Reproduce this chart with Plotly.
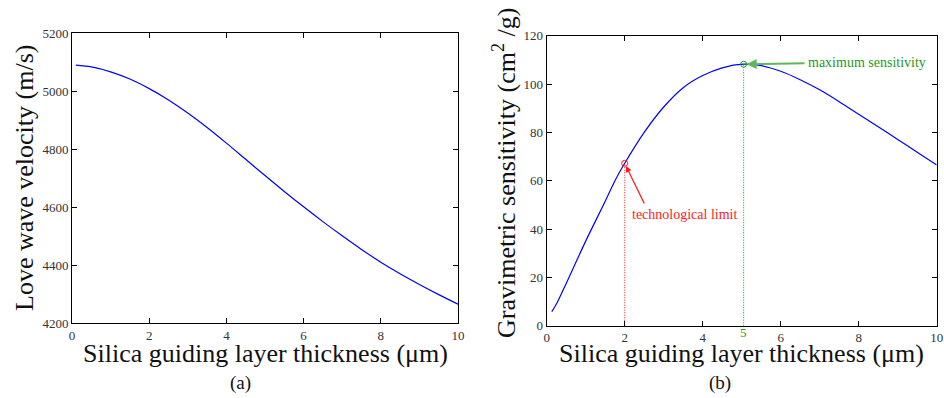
import plotly.graph_objects as go

# (a) Love wave velocity vs silica thickness
thick_a = [0.1, 0.5, 1.0, 1.5, 2.0, 2.5, 3.0, 3.5, 4.0, 4.5, 5.0, 5.5, 6.0, 6.5, 7.0, 7.5, 8.0, 8.5, 9.0, 9.5, 10.0]
velocity = [5090, 5084, 5067, 5042, 5009, 4970, 4925, 4875, 4821, 4765, 4709, 4654, 4601, 4550, 4501, 4454, 4410, 4370, 4333, 4298, 4265]

# (b) Gravimetric sensitivity vs silica thickness
thick_b = [0.13, 0.26, 0.5, 1.0, 1.5, 1.75, 2.0, 2.5, 3.0, 3.5, 4.0, 4.5, 5.05, 5.5, 6.0, 6.5, 7.0, 7.5, 8.0, 8.5, 9.0, 9.5, 10.0]
sensitivity = [5.8, 9.3, 17.5, 35.0, 51.5, 60.0, 67.2, 80.0, 90.5, 98.5, 103.5, 106.7, 108.2, 107.6, 105.3, 101.8, 97.6, 92.7, 87.5, 82.3, 77.1, 71.8, 66.5]

tech_limit_x, tech_limit_y = 2.0, 67.2
max_sens_x, max_sens_y = 5.05, 108.2

x_ticks = [0, 2, 4, 6, 8, 10]
ya_ticks = [4200, 4400, 4600, 4800, 5000, 5200]
yb_ticks = [0, 20, 40, 60, 80, 100, 120]

FONT = "Liberation Serif"
RED = "#ff1a1a"
GREEN = "#1a9a1a"
W, H = 944, 398

def px_x(p):
    return p / W

def px_y(p):
    return 1 - p / H

fig = go.Figure()
fig.add_trace(go.Scatter(x=thick_a, y=velocity, mode="lines",
                         line=dict(color="#0000ff", width=1.2, shape="spline", smoothing=0.8),
                         xaxis="x", yaxis="y", showlegend=False))
fig.add_trace(go.Scatter(x=thick_b, y=sensitivity, mode="lines",
                         line=dict(color="#0000ff", width=1.2, shape="spline", smoothing=0.8),
                         xaxis="x2", yaxis="y2", showlegend=False))
# dotted drop lines
fig.add_trace(go.Scatter(x=[tech_limit_x, tech_limit_x], y=[0, tech_limit_y], mode="lines",
                         line=dict(color=RED, width=1, dash="1px,1.5px"), xaxis="x2", yaxis="y2", showlegend=False))
fig.add_trace(go.Scatter(x=[max_sens_x, max_sens_x], y=[0, max_sens_y], mode="lines",
                         line=dict(color=GREEN, width=1, dash="1px,1.5px"), xaxis="x2", yaxis="y2", showlegend=False))
# markers
fig.add_trace(go.Scatter(x=[tech_limit_x], y=[tech_limit_y], mode="markers",
                         marker=dict(symbol="circle-open", size=6, color=RED, line=dict(width=1, color=RED)),
                         xaxis="x2", yaxis="y2", showlegend=False))
fig.add_trace(go.Scatter(x=[max_sens_x], y=[max_sens_y], mode="markers",
                         marker=dict(symbol="circle-open", size=6, color=GREEN, line=dict(width=1, color=GREEN)),
                         xaxis="x2", yaxis="y2", showlegend=False))

axis_common = dict(showgrid=False, zeroline=False, showline=True, linecolor="black", linewidth=1,
                   mirror="ticks", ticks="inside", ticklen=5, tickwidth=1, tickcolor="black",
                   automargin=False,
                   tickfont=dict(family=FONT, size=13, color="#333333"))

fig.update_layout(
    template="none",
    width=W, height=H,
    margin=dict(l=0, r=0, t=0, b=0, pad=0, autoexpand=False),
    paper_bgcolor="white", plot_bgcolor="white",
    xaxis=dict(domain=[px_x(72), px_x(458)], range=[0, 10], tickvals=x_ticks, anchor="y", **axis_common),
    yaxis=dict(domain=[px_y(323), px_y(33.3)], range=[4200, 5200], tickvals=ya_ticks, anchor="x", **axis_common),
    xaxis2=dict(domain=[px_x(546.7), px_x(936.7)], range=[0, 10], tickvals=x_ticks, anchor="y2", **axis_common),
    yaxis2=dict(domain=[px_y(325.7), px_y(35.7)], range=[0, 120], tickvals=yb_ticks, anchor="x2", **axis_common),
)

TITLE_FONT = dict(family=FONT, size=26, color="#111111")
ann = []
# axis titles
ann.append(dict(text="Silica guiding layer thickness (μm)", x=px_x(265), y=px_y(353), xref="paper", yref="paper",
                showarrow=False, xanchor="center", yanchor="middle", font=TITLE_FONT))
ann.append(dict(text="Silica guiding layer thickness (μm)", x=px_x(741.7), y=px_y(353), xref="paper", yref="paper",
                showarrow=False, xanchor="center", yanchor="middle", font=TITLE_FONT))
ann.append(dict(text="Love wave velocity (m/s)", x=px_x(24), y=px_y(178), xref="paper", yref="paper", textangle=-90,
                showarrow=False, xanchor="center", yanchor="middle", font=TITLE_FONT))
ann.append(dict(text="Gravimetric sensitivity (cm<sup>2</sup> /g)", x=px_x(504), y=px_y(173), xref="paper", yref="paper",
                textangle=-90, showarrow=False, xanchor="center", yanchor="middle", font=TITLE_FONT))
# captions
ann.append(dict(text="(a)", x=px_x(240), y=px_y(383), xref="paper", yref="paper", showarrow=False,
                xanchor="center", yanchor="middle", font=dict(family=FONT, size=19, color="#111111")))
ann.append(dict(text="(b)", x=px_x(720), y=px_y(383), xref="paper", yref="paper", showarrow=False,
                xanchor="center", yanchor="middle", font=dict(family=FONT, size=19, color="#111111")))
# green "5" tick label
ann.append(dict(text="5", x=max_sens_x, y=px_y(332), xref="x2", yref="paper", showarrow=False,
                xanchor="center", yanchor="middle", font=dict(family=FONT, size=13, color=GREEN)))
# technological limit
ann.append(dict(text="", x=tech_limit_x, y=tech_limit_y, xref="x2", yref="y2", ax=2.52, ay=50.0,
                axref="x2", ayref="y2", showarrow=True, arrowhead=2, arrowsize=1, arrowwidth=1.2,
                arrowcolor=RED, standoff=3))
ann.append(dict(text="technological limit", x=2.13, y=46.2, xref="x2", yref="y2", showarrow=False,
                xanchor="left", yanchor="middle", font=dict(family=FONT, size=14, color=RED)))
# maximum sensitivity
ann.append(dict(text="", x=max_sens_x, y=max_sens_y, xref="x2", yref="y2", ax=6.65, ay=108.6,
                axref="x2", ayref="y2", showarrow=True, arrowhead=2, arrowsize=1, arrowwidth=2,
                arrowcolor="#5cb85c", standoff=3))
ann.append(dict(text="maximum sensitivity", x=6.65, y=108.9, xref="x2", yref="y2", showarrow=False,
                xanchor="left", yanchor="middle", font=dict(family=FONT, size=14, color=GREEN)))
fig.update_layout(annotations=ann)

fig.write_html("out.html", config={"displayModeBar": False},
               post_script="document.body.style.margin='0';document.body.style.overflow='hidden';")
